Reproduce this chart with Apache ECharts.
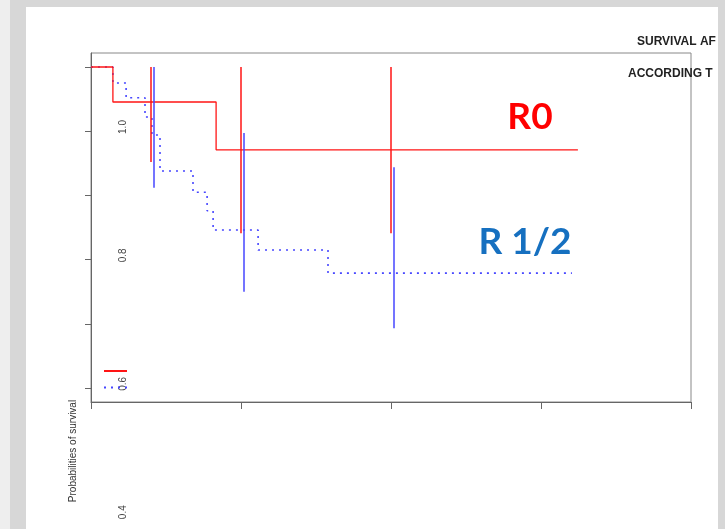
<!DOCTYPE html>
<html>
<head>
<meta charset="utf-8">
<script src="https://cdn.jsdelivr.net/npm/echarts@6/dist/echarts.min.js"></script>
<style>
  html, body { margin: 0; padding: 0; background: #fff; }
  #chart { width: 725px; height: 529px; }
</style>
</head>
<body>
<div id="chart"></div>
<script>
// time axis (arbitrary units, ticks every 5) and survival probability
const xTicks = [0, 5, 10, 15, 20]
const yTicks = [0.5, 0.6, 0.7, 0.8, 0.9, 1.0]
// the printed labels sit a bit off the tick marks in the scan
const yLabelMin = 0.4
const yLabelMax = 1.1
const yLabelStep = 0.2

// R0 Kaplan-Meier steps
const r0Time = [0, 0.73, 4.17, 16.23]
const r0Surv = [1.0, 0.9455, 0.871, 0.871]
// R 1/2 Kaplan-Meier steps
const r12Time = [0, 0.73, 1.17, 1.8, 2.03, 2.3, 3.4, 3.87, 4.07, 5.57, 7.9, 16.03]
const r12Surv = [1.0, 0.975, 0.952, 0.922, 0.894, 0.838, 0.805, 0.776, 0.746, 0.715, 0.679, 0.679]

// confidence bars
const r0CiTime = [2.0, 5.0, 10.0]
const r0CiLow = [0.852, 0.741, 0.741]
const r0CiHigh = [1.0, 1.0, 1.0]
const r12CiTime = [2.1, 5.1, 10.1]
const r12CiLow = [0.812, 0.650, 0.593]
const r12CiHigh = [1.0, 0.897, 0.844]

const red = '#ff1414'
const blue = '#4646ff'

function pairs (xs, ys) {
  return xs.map((x, i) => [x, ys[i]])
}
function ciRows (xs, lo, hi) {
  return xs.map((x, i) => [x, lo[i], hi[i]])
}
function ciRender (color) {
  return function (params, api) {
    const a = api.coord([api.value(0), api.value(2)])
    const b = api.coord([api.value(0), api.value(1)])
    return {
      type: 'line',
      shape: { x1: a[0], y1: a[1], x2: b[0], y2: b[1] },
      style: { stroke: color, lineWidth: 1.5 }
    }
  }
}

const myChart = echarts.init(document.getElementById('chart'))
myChart.setOption({
  animation: false,
  backgroundColor: '#fff',
  graphic: [
    // scan background strips
    { type: 'rect', shape: { x: 0, y: 0, width: 10, height: 529 }, style: { fill: '#eeeeee' }, z: -10 },
    { type: 'rect', shape: { x: 10, y: 0, width: 16, height: 529 }, style: { fill: '#d7d7d7' }, z: -10 },
    { type: 'rect', shape: { x: 10, y: 0, width: 715, height: 7 }, style: { fill: '#d7d7d7' }, z: -10 },
    { type: 'rect', shape: { x: 718, y: 0, width: 7, height: 529 }, style: { fill: '#d7d7d7' }, z: -10 },
    {
      type: 'text', left: 637, top: 36,
      style: { text: 'SURVIVAL AF', fontSize: 12, fontWeight: 'bold', fill: '#222', fontFamily: 'Liberation Sans' }
    },
    {
      type: 'text', left: 628, top: 68,
      style: { text: 'ACCORDING T', fontSize: 12, fontWeight: 'bold', fill: '#222', fontFamily: 'Liberation Sans' }
    },
    {
      type: 'text', x: 530, y: 117,
      style: { text: 'R0', fontSize: 37, fontWeight: 'bold', fill: '#ff0000', fontFamily: 'Lato', align: 'center', verticalAlign: 'middle' }
    },
    {
      type: 'text', x: 525, y: 242,
      style: { text: 'R 1/2', fontSize: 37, fontWeight: 'bold', fill: '#1670c0', fontFamily: 'Lato', align: 'center', verticalAlign: 'middle' }
    },
    {
      type: 'text', x: 73, y: 451, rotation: Math.PI / 2,
      style: { text: 'Probabilities of survival', fontSize: 10, fill: '#333', fontFamily: 'Liberation Sans', align: 'center', verticalAlign: 'middle' }
    }
  ],
  legend: {
    orient: 'vertical',
    left: 98,
    top: 359,
    itemWidth: 23,
    itemHeight: 14,
    itemGap: 4,
    formatter: () => '',
    itemStyle: { opacity: 0 },
    data: ['R0', 'R 1/2']
  },
  grid: [
    { left: 91, top: 53, width: 600, height: 349, show: true, borderColor: '#888', borderWidth: 1 },
    // only used to place the y labels
    { left: 91, top: 62.8, width: 600, height: 449.4 }
  ],
  xAxis: [
    {
      type: 'value', gridIndex: 0,
      min: xTicks[0], max: xTicks[xTicks.length - 1], interval: 5,
      axisLine: { lineStyle: { color: '#666' } },
      axisTick: { length: 7, lineStyle: { color: '#666' } },
      axisLabel: { show: false },
      splitLine: { show: false }
    },
    { type: 'value', gridIndex: 1, min: 0, max: 20, show: false }
  ],
  yAxis: [
    {
      type: 'value', gridIndex: 0,
      min: 0.4782, max: 1.0218,
      axisLine: { show: true, lineStyle: { color: '#666' } },
      axisTick: { show: true, length: 6, customValues: yTicks, lineStyle: { color: '#666' } },
      axisLabel: { show: false },
      splitLine: { show: false }
    },
    {
      type: 'value', gridIndex: 1,
      min: yLabelMin, max: yLabelMax, interval: yLabelStep,
      axisLine: { show: false },
      axisTick: { show: false },
      splitLine: { show: false },
      axisLabel: {
        show: true,
        inside: true,
        rotate: 90,
        margin: 27,
        showMaxLabel: false,
        showMinLabel: true,
        hideOverlap: false,
        formatter: v => v.toFixed(1),
        color: '#444',
        fontSize: 10,
        fontFamily: 'Liberation Sans'
      }
    }
  ],
  series: [
    {
      name: 'R0',
      type: 'line',
      step: 'end',
      symbol: 'none',
      lineStyle: { color: red, width: 1.3 },
      itemStyle: { color: red },
      data: pairs(r0Time, r0Surv),
      z: 3
    },
    {
      name: 'R 1/2',
      type: 'line',
      step: 'end',
      symbol: 'none',
      lineStyle: { color: blue, width: 1.6, type: [2, 5] },
      itemStyle: { color: blue },
      data: pairs(r12Time, r12Surv),
      z: 2
    },
    {
      name: 'R0 CI',
      type: 'custom',
      renderItem: ciRender(red),
      encode: { x: 0, y: [1, 2] },
      data: ciRows(r0CiTime, r0CiLow, r0CiHigh),
      z: 4
    },
    {
      name: 'R 1/2 CI',
      type: 'custom',
      renderItem: ciRender(blue),
      encode: { x: 0, y: [1, 2] },
      data: ciRows(r12CiTime, r12CiLow, r12CiHigh),
      z: 4
    }
  ]
})
</script>
</body>
</html>
